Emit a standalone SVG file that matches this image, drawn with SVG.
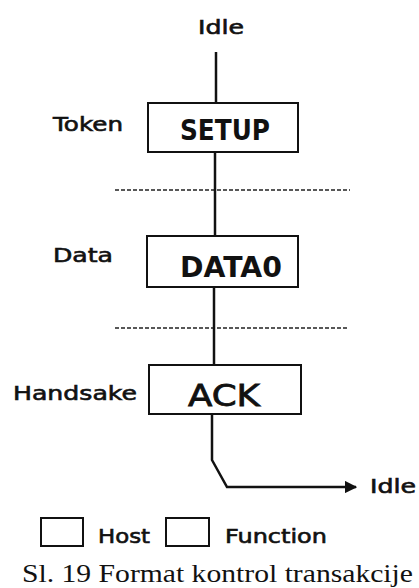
<svg xmlns="http://www.w3.org/2000/svg" width="419" height="588" viewBox="0 0 419 588">
  <defs>
    <style>
      .lbl { font-family: "DejaVu Sans", "Liberation Sans", sans-serif; font-size: 19px; fill: #111; stroke: #111; stroke-width: 0.6; }
      .pkt { font-family: "DejaVu Sans", "Liberation Sans", sans-serif; font-size: 28px; font-weight: bold; fill: #111; }
      .cap { font-family: "Liberation Serif", serif; font-size: 25px; fill: #111; }
      .box { fill: #fff; stroke: #111; stroke-width: 2; }
      .wire { fill: none; stroke: #111; stroke-width: 2.5; }
      .sep { fill: none; stroke: #222; stroke-width: 1.4; stroke-dasharray: 4 2; }
    </style>
    <marker id="arrow" viewBox="0 0 10 10" refX="9" refY="5" markerWidth="5" markerHeight="5" orient="auto">
      <path d="M0,0 L10,5 L0,10 Z" fill="#111"/>
    </marker>
  </defs>

  <rect width="419" height="588" fill="#fff"/>

  <!-- phase separators -->
  <g id="separators">
    <line class="sep" x1="115" y1="190" x2="350" y2="190"/>
    <line class="sep" x1="115" y1="328" x2="348" y2="328"/>
  </g>

  <!-- connectors -->
  <g id="connectors">
    <line class="wire" x1="216" y1="52" x2="216" y2="103"/>
    <line class="wire" x1="215" y1="152" x2="215" y2="236"/>
    <line class="wire" x1="214" y1="287" x2="214" y2="365"/>
    <polyline class="wire" points="212,414 212,460 227,487 356,487" marker-end="url(#arrow)"/>
  </g>

  <!-- start / end states -->
  <g id="idle-start">
    <text class="lbl" x="221" y="34" text-anchor="middle" textLength="46" lengthAdjust="spacingAndGlyphs">Idle</text>
  </g>
  <g id="idle-end">
    <text class="lbl" x="370" y="493" textLength="46" lengthAdjust="spacingAndGlyphs">Idle</text>
  </g>

  <!-- token packet -->
  <g id="setup">
    <text class="lbl" x="53" y="131" textLength="70" lengthAdjust="spacingAndGlyphs">Token</text>
    <rect class="box" x="148" y="103" width="150" height="49"/>
    <text class="pkt" x="180" y="140" textLength="90" lengthAdjust="spacingAndGlyphs">SETUP</text>
  </g>

  <!-- data packet -->
  <g id="data0">
    <text class="lbl" x="53" y="262" textLength="60" lengthAdjust="spacingAndGlyphs">Data</text>
    <rect class="box" x="147" y="236" width="151" height="51"/>
    <text class="pkt" x="180" y="277" textLength="102" lengthAdjust="spacingAndGlyphs">DATA0</text>
  </g>

  <!-- handshake packet -->
  <g id="ack">
    <text class="lbl" x="13" y="400" textLength="124" lengthAdjust="spacingAndGlyphs">Handsake</text>
    <rect class="box" x="149" y="365" width="152" height="49"/>
    <text class="pkt" x="188" y="406" textLength="72" lengthAdjust="spacingAndGlyphs" style="font-weight:normal;font-size:30px;stroke:#111;stroke-width:0.8">ACK</text>
  </g>

  <!-- legend -->
  <g id="legend">
    <rect class="box" x="41" y="518" width="42" height="28" stroke-width="1.8"/>
    <text class="lbl" x="98" y="543" textLength="52" lengthAdjust="spacingAndGlyphs">Host</text>
    <rect class="box" x="166" y="518" width="43" height="28" stroke-width="1.8"/>
    <text class="lbl" x="225" y="543" textLength="102" lengthAdjust="spacingAndGlyphs">Function</text>
  </g>

  <!-- caption -->
  <g id="caption">
    <text class="cap" x="22" y="582" textLength="391" lengthAdjust="spacingAndGlyphs">Sl. 19 Format kontrol transakcije</text>
  </g>
</svg>
